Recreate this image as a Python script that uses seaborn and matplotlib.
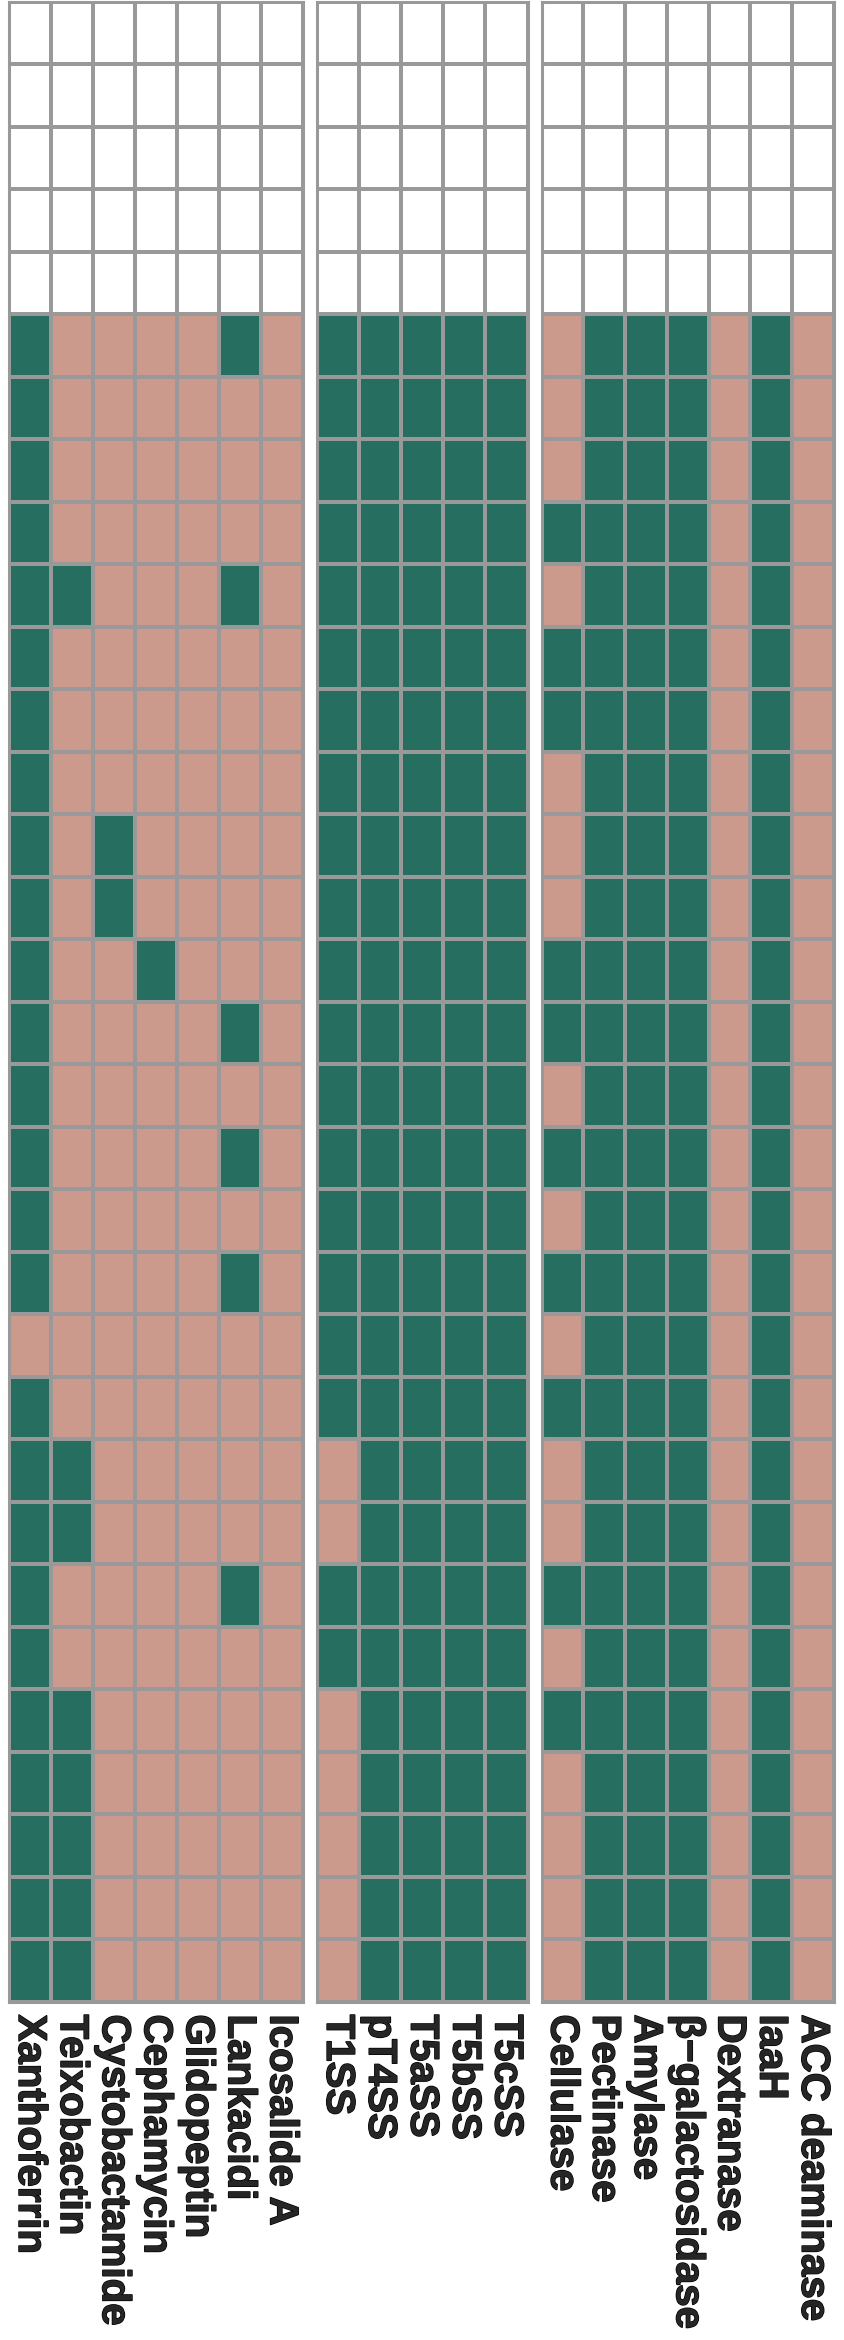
import numpy as np
import pandas as pd
import seaborn as sns
import matplotlib.pyplot as plt
import matplotlib.patheffects as pe
from matplotlib.colors import ListedColormap

# datos: 27 cepas (filas), 1 = presente, 0 = ausente
# las 5 primeras filas del grafico van en blanco

# metabolitos
metab_cols = ["Xanthoferrin", "Teixobactin", "Cystobactamide", "Cephamycin",
              "Glidopeptin", "Lankacidi", "Icosalide A"]
xanthoferrin = [1,1,1,1,1,1,1,1,1,1,1,1,1,1,1,1,0,1,1,1,1,1,1,1,1,1,1]
teixobactin = [0,0,0,0,1,0,0,0,0,0,0,0,0,0,0,0,0,0,1,1,0,0,1,1,1,1,1]
cystobactamide = [0,0,0,0,0,0,0,0,1,1,0,0,0,0,0,0,0,0,0,0,0,0,0,0,0,0,0]
cephamycin = [0,0,0,0,0,0,0,0,0,0,1,0,0,0,0,0,0,0,0,0,0,0,0,0,0,0,0]
glidopeptin = [0,0,0,0,0,0,0,0,0,0,0,0,0,0,0,0,0,0,0,0,0,0,0,0,0,0,0]
lankacidi = [1,0,0,0,1,0,0,0,0,0,0,1,0,1,0,1,0,0,0,0,1,0,0,0,0,0,0]
icosalide = [0,0,0,0,0,0,0,0,0,0,0,0,0,0,0,0,0,0,0,0,0,0,0,0,0,0,0]

# sistemas de secrecion
secr_cols = ["T1SS", "pT4SS", "T5aSS", "T5bSS", "T5cSS"]
t1ss = [1,1,1,1,1,1,1,1,1,1,1,1,1,1,1,1,1,1,0,0,1,1,0,0,0,0,0]
pt4ss = [1,1,1,1,1,1,1,1,1,1,1,1,1,1,1,1,1,1,1,1,1,1,1,1,1,1,1]
t5ass = [1,1,1,1,1,1,1,1,1,1,1,1,1,1,1,1,1,1,1,1,1,1,1,1,1,1,1]
t5bss = [1,1,1,1,1,1,1,1,1,1,1,1,1,1,1,1,1,1,1,1,1,1,1,1,1,1,1]
t5css = [1,1,1,1,1,1,1,1,1,1,1,1,1,1,1,1,1,1,1,1,1,1,1,1,1,1,1]

# enzimas
enz_cols = ["Cellulase", "Pectinase", "Amylase", "β−galactosidase",
            "Dextranase", "IaaH", "ACC deaminase"]
cellulase = [0,0,0,1,0,1,1,0,0,0,1,1,0,1,0,1,0,1,0,0,1,0,1,0,0,0,0]
pectinase = [1,1,1,1,1,1,1,1,1,1,1,1,1,1,1,1,1,1,1,1,1,1,1,1,1,1,1]
amylase = [1,1,1,1,1,1,1,1,1,1,1,1,1,1,1,1,1,1,1,1,1,1,1,1,1,1,1]
bgal = [1,1,1,1,1,1,1,1,1,1,1,1,1,1,1,1,1,1,1,1,1,1,1,1,1,1,1]
dextranase = [0,0,0,0,0,0,0,0,0,0,0,0,0,0,0,0,0,0,0,0,0,0,0,0,0,0,0]
iaah = [1,1,1,1,1,1,1,1,1,1,1,1,1,1,1,1,1,1,1,1,1,1,1,1,1,1,1]
acc = [0,0,0,0,0,0,0,0,0,0,0,0,0,0,0,0,0,0,0,0,0,0,0,0,0,0,0]

n_blank = 5


def armar_tabla(cols, series):
    # -1 = celda vacia, 0 = ausente, 1 = presente
    datos = np.array(series).T
    vacias = np.full((n_blank, len(cols)), -1)
    return pd.DataFrame(np.vstack([vacias, datos]), columns=cols)


tablas = [armar_tabla(metab_cols, [xanthoferrin, teixobactin, cystobactamide, cephamycin,
                                   glidopeptin, lankacidi, icosalide]),
          armar_tabla(secr_cols, [t1ss, pt4ss, t5ass, t5bss, t5css]),
          armar_tabla(enz_cols, [cellulase, pectinase, amylase, bgal, dextranase, iaah, acc])]

sns.set_style("white")
plt.rcParams['font.family'] = ['Liberation Sans', 'DejaVu Sans']

colores = ListedColormap(["#ffffff", "#cc9a8c", "#266e60"])
gris = "#999999"

fig = plt.figure(figsize=(8.44, 23.4), dpi=100)
W, H = 844, 2340
top, bottom = 1.5, 2002
# posiciones x (pixeles) de cada panel
paneles = [(9, 302.5), (317, 527.5), (541.5, 834)]

for (x0, x1), tabla in zip(paneles, tablas):
    ax = fig.add_axes([x0 / W, 1 - bottom / H, (x1 - x0) / W, (bottom - top) / H])
    sns.heatmap(tabla, ax=ax, cmap=colores, vmin=-1.5, vmax=1.5, cbar=False,
                linewidths=1.5, linecolor=gris, xticklabels=True, yticklabels=False)
    ax.set_xticklabels(tabla.columns, rotation=270, ha="center", va="top",
                       fontsize=29, fontweight="bold")
    # trazo fino para que la letra quede mas gruesa
    for t in ax.get_xticklabels():
        t.set_path_effects([pe.withStroke(linewidth=1.0, foreground="black")])
    ax.tick_params(axis="x", length=0, pad=9)
    ax.set_xlabel("")
    ax.set_ylabel("")
    for s in ax.spines.values():
        s.set_visible(True)
        s.set_color(gris)
        s.set_linewidth(2.2)

plt.savefig("out.png", dpi=100)
